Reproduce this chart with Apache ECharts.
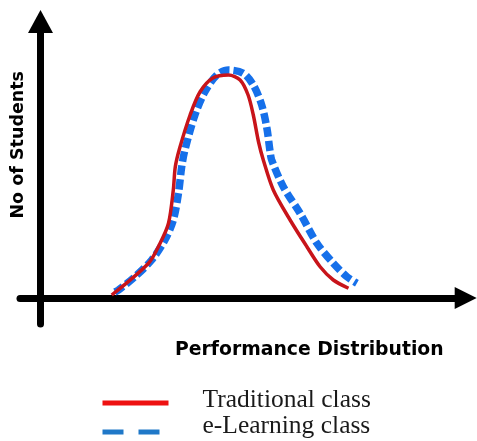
<!DOCTYPE html>
<html>
<head>
<meta charset="utf-8">
<script src="https://cdn.jsdelivr.net/npm/echarts@6/dist/echarts.min.js"></script>
<style>
html,body{margin:0;padding:0;background:#fff;}
#chart{width:477px;height:441px;}
</style>
</head>
<body>
<div id="chart"></div>
<script>
// Performance (x) values and number of students (y)
const tradX = [17.8, 27.0, 29.9, 32.0, 33.2, 33.7, 34.8, 37.4, 39.9, 43.1, 47.0, 49.9, 51.9, 53.2, 54.5, 55.7, 58.2, 62.4, 66.6, 69.9, 73.2, 77.0];
const tradY = [1.2, 13.9, 21.9, 29.9, 43.2, 52.5, 60.0, 73.2, 82.5, 88.0, 89.2, 87.2, 81.2, 73.2, 62.5, 55.2, 43.2, 31.2, 20.5, 12.5, 7.2, 3.9];
const elearnX = [18.6, 19.5, 23.6, 27.8, 31.1, 33.2, 34.5, 35.3, 36.1, 38.6, 41.1, 44.1, 47.0, 50.7, 53.2, 55.3, 56.6, 57.4, 57.8, 60.7, 64.9, 69.1, 73.2, 76.6, 79.1];
const elearnY = [2.4, 3.2, 8.5, 15.2, 23.2, 31.2, 42.0, 52.5, 59.2, 73.2, 82.5, 89.2, 91.2, 89.9, 85.2, 77.2, 67.9, 58.5, 55.2, 44.5, 33.9, 21.9, 13.9, 8.5, 5.9];
const seriesNames = ['Traditional class', 'e-Learning class'];
const xTitle = 'Performance Distribution';
const yTitle = 'No of Students';

const zip = (xs, ys) => xs.map((x, i) => [x, ys[i]]);

const chart = echarts.init(document.getElementById('chart'), null, {renderer: 'canvas'});
function legendText(pb) {
  return {
    rich: {
      a: {fontFamily: 'Liberation Serif', fontSize: 25.5, color: '#1a1a1a', padding: [0, 0, pb, 29]}
    }
  };
}
chart.setOption({
  animation: false,
  backgroundColor: '#ffffff',
  grid: {left: 20, right: 11.3, top: 21.5, bottom: 117, containLabel: false, outerBoundsMode: 'none'},
  xAxis: {
    type: 'value', min: -5.125, max: 106.3,
    axisLine: {onZero: true, symbol: ['none', 'triangle'], symbolSize: [22, 22],
      lineStyle: {color: '#000', width: 7}},
    axisTick: {show: false}, axisLabel: {show: false}, splitLine: {show: false},
    name: xTitle, nameLocation: 'middle', nameGap: 17, nameMoveOverlap: false,
    nameTextStyle: {fontFamily: 'DejaVu Sans', fontWeight: 'bold', fontSize: 18.8, color: '#000', padding: [0, 0, 0, 133]}
  },
  yAxis: {
    type: 'value', min: -10.4, max: 110.6,
    axisLine: {onZero: true, symbol: ['none', 'triangle'], symbolSize: [25, 23],
      lineStyle: {color: '#000', width: 7}},
    axisTick: {show: false}, axisLabel: {show: false}, splitLine: {show: false},
    name: yTitle, nameLocation: 'middle', nameRotate: 90, nameGap: -7, nameMoveOverlap: false,
    nameTextStyle: {fontFamily: 'DejaVu Sans', fontWeight: 'bold', fontSize: 17.5, color: '#000', padding: [0, 0, 0, 56]}
  },
  legend: [
    {
      left: 100, top: 387, padding: 0, itemWidth: 66, itemHeight: 6, orient: 'vertical',
      data: [{name: seriesNames[0], lineStyle: {color: '#ee1111', width: 5, type: 'solid'}, itemStyle: {opacity: 0, borderWidth: 0}}],
      formatter: '{a|{name}}',
      textStyle: legendText(6)
    },
    {
      left: 100, top: 413, padding: 0, itemWidth: 66, itemHeight: 6, orient: 'vertical',
      data: [{name: seriesNames[1], lineStyle: {color: '#1f78c8', width: 5, type: [21, 15]}, itemStyle: {opacity: 0, borderWidth: 0}}],
      formatter: '{a|{name}}',
      textStyle: legendText(12)
    }
  ],
  series: [
    {
      name: seriesNames[1], type: 'line', data: zip(elearnX, elearnY), smooth: 0.3,
      showSymbol: false, symbol: 'none', z: 2,
      lineStyle: {color: '#1670ea', width: 7.5, type: [10, 4], cap: 'butt'},
      itemStyle: {color: '#1670ea'}
    },
    {
      name: seriesNames[0], type: 'line', data: zip(tradX, tradY), smooth: 0.3,
      showSymbol: false, symbol: 'none', z: 3,
      lineStyle: {color: '#c8141a', width: 3.5},
      itemStyle: {color: '#c8141a'}
    }
  ]
});
</script>
</body>
</html>
